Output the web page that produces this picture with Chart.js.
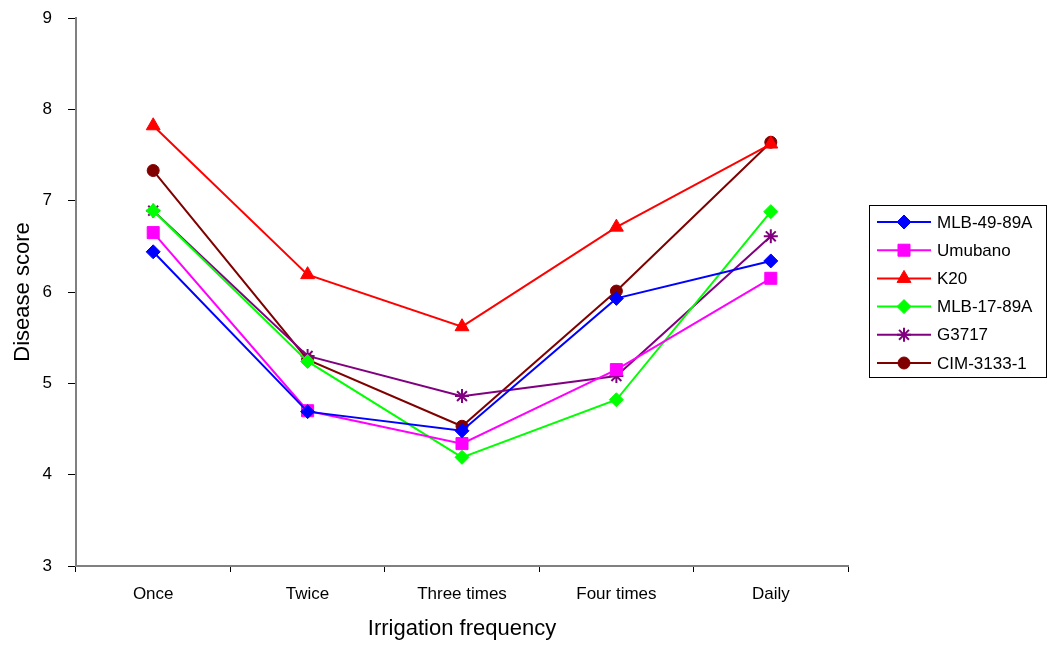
<!DOCTYPE html>
<html lang="en">
<head>
  <meta charset="UTF-8">
  <title>Disease score by irrigation frequency</title>
  <script src="https://cdn.jsdelivr.net/npm/chart.js"></script>
  <style>
    html, body { margin: 0; padding: 0; background: #fff; }
    #wrap { width: 1048px; height: 646px; }
  </style>
</head>
<body>
  <div id="wrap"><canvas id="chart" width="1048" height="646"></canvas></div>

  <script>
    const categories = ["Once", "Twice", "Three times", "Four times", "Daily"];
    const yTicks = [3, 4, 5, 6, 7, 8, 9];

    const mlb4989 = [6.44, 4.69, 4.48, 5.93, 6.34];
    const umubano = [6.65, 4.70, 4.34, 5.15, 6.15];
    const k20 = [7.82, 6.19, 5.62, 6.71, 7.62];
    const mlb1789 = [6.89, 5.24, 4.19, 4.82, 6.88];
    const g3717 = [6.89, 5.30, 4.86, 5.08, 6.61];
    const cim3133 = [7.33, 5.26, 4.53, 6.01, 7.64];

    const fontName = "'Liberation Sans', Arial, sans-serif";

    function series(label, data, color, style, radius) {
      return {
        label: label,
        data: data,
        borderColor: color,
        backgroundColor: color,
        pointBackgroundColor: color,
        pointBorderColor: color,
        pointStyle: style,
        pointRadius: radius,
        pointBorderWidth: style === "star" ? 2 : 1,
        borderWidth: 2,
        tension: 0,
        fill: false
      };
    }

    // boxed legend on the right, line with a marker in the middle
    const boxLegend = {
      id: "boxLegend",
      afterDraw(chart) {
        const ctx = chart.ctx;
        const left = 869, top = 205, right = 1046, bottom = 377;
        ctx.save();
        ctx.strokeStyle = "#000";
        ctx.lineWidth = 1;
        ctx.strokeRect(left + 0.5, top + 0.5, right - left, bottom - top);
        ctx.font = "17px " + fontName;
        ctx.textBaseline = "middle";
        chart.data.datasets.forEach((ds, i) => {
          const y = 222 + i * 28.2;
          ctx.strokeStyle = ds.borderColor;
          ctx.lineWidth = 2;
          ctx.beginPath();
          ctx.moveTo(877, y);
          ctx.lineTo(931, y);
          ctx.stroke();
          ctx.fillStyle = ds.borderColor;
          ctx.lineWidth = ds.pointBorderWidth;
          Chart.helpers.drawPoint(ctx, {
            pointStyle: ds.pointStyle,
            radius: ds.pointRadius,
            borderWidth: ds.pointBorderWidth,
            rotation: 0
          }, 904, y);
          ctx.fillStyle = "#000";
          ctx.fillText(ds.label, 937, y + 1);
        });
        ctx.restore();
      }
    };

    new Chart(document.getElementById("chart"), {
      type: "line",
      data: {
        labels: categories,
        datasets: [
          series("MLB-49-89A", mlb4989, "#0000FF", "rectRot", 7),
          series("Umubano", umubano, "#FF00FF", "rect", 8.5),
          series("K20", k20, "#FF0000", "triangle", 8),
          series("MLB-17-89A", mlb1789, "#00FF00", "rectRot", 7),
          series("G3717", g3717, "#800080", "star", 7),
          series("CIM-3133-1", cim3133, "#800000", "circle", 6)
        ]
      },
      options: {
        responsive: false,
        animation: false,
        layout: { padding: { top: 18, right: 200, left: 0, bottom: 0 } },
        plugins: {
          legend: { display: false },
          tooltip: { enabled: false }
        },
        scales: {
          x: {
            offset: true,
            grid: {
              offset: true,
              drawOnChartArea: false,
              tickLength: 6,
              color: "#000"
            },
            border: { color: "#808080", width: 2 },
            ticks: {
              color: "#000",
              font: { family: fontName, size: 17 },
              padding: 12
            },
            title: {
              display: true,
              text: "Irrigation frequency",
              color: "#000",
              font: { family: fontName, size: 22 },
              padding: { top: 11 }
            },
            afterFit(scale) { scale.height = 80; }
          },
          y: {
            min: 3,
            max: 9,
            afterBuildTicks(scale) {
              scale.ticks = yTicks.map(v => ({ value: v }));
            },
            grid: {
              drawOnChartArea: false,
              tickLength: 8,
              color: "#000"
            },
            border: { color: "#808080", width: 2 },
            ticks: {
              color: "#000",
              font: { family: fontName, size: 17 },
              padding: 16
            },
            title: {
              display: true,
              text: "Disease score",
              color: "#000",
              font: { family: fontName, size: 22 },
              padding: { bottom: 0, top: 10 }
            },
            afterFit(scale) {
              scale.width = 76;
              scale.paddingTop = 0;
              scale.paddingBottom = 0;
            }
          }
        }
      },
      plugins: [boxLegend]
    });
  </script>
</body>
</html>
